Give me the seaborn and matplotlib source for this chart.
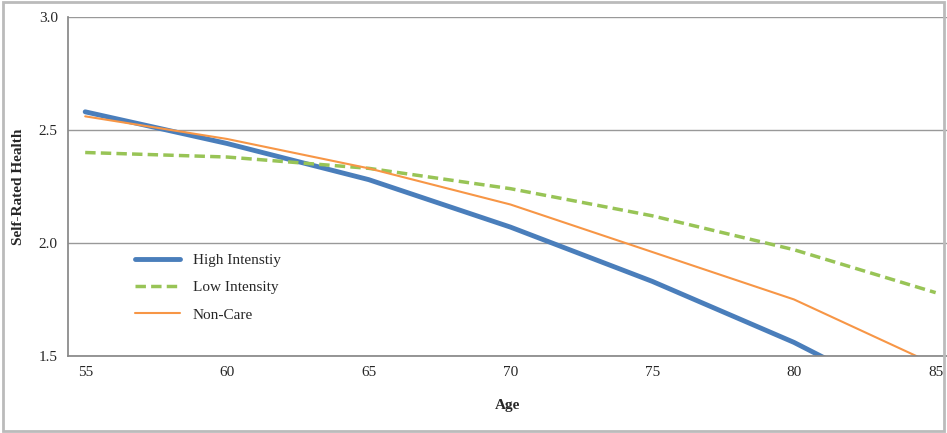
import matplotlib.pyplot as plt
import seaborn as sns
import pandas as pd

sns.set_theme(style="white")
plt.rcParams['font.family'] = ['Liberation Serif', 'DejaVu Serif']

ages = [55, 60, 65, 70, 75, 80, 85]
high = [2.58, 2.44, 2.28, 2.07, 1.83, 1.56, 1.24]
low = [2.40, 2.38, 2.33, 2.24, 2.12, 1.97, 1.78]
noncare = [2.56, 2.46, 2.33, 2.17, 1.96, 1.75, 1.46]

df = pd.DataFrame({'Age': ages, 'High Intenstiy': high,
                   'Low Intensity': low, 'Non-Care': noncare})

fig = plt.figure(figsize=(9.47, 4.33), dpi=100)
fig.patches.append(plt.Rectangle((0.003, 0.005), 0.994, 0.99, transform=fig.transFigure,
                                 fill=False, edgecolor='#bbbbbb', linewidth=2))
ax = fig.add_axes([0.072, 0.178, 0.928, 0.783])

sns.lineplot(data=df, x='Age', y='High Intenstiy', ax=ax, color='#4a7ebb', linewidth=3.5,
             label='High Intenstiy')
sns.lineplot(data=df, x='Age', y='Low Intensity', ax=ax, color='#98c456', linewidth=2.5,
             linestyle=(0, (3, 1.5)), label='Low Intensity')
sns.lineplot(data=df, x='Age', y='Non-Care', ax=ax, color='#f79646', linewidth=1.5,
             label='Non-Care')

ax.set_xlim(54.4, 85.4)
ax.set_ylim(1.5, 3.0)
ax.set_xticks([55, 60, 65, 70, 75, 80, 85])
ax.set_yticks([1.5, 2.0, 2.5, 3.0])
ax.set_yticklabels(['1.5', '2.0', '2.5', '3.0'])
ax.yaxis.grid(True, color='#999999', linewidth=1)
for s in ['top', 'right']:
    ax.spines[s].set_visible(False)
ax.spines['left'].set_color('#888888')
ax.spines['bottom'].set_color('#888888')
ax.tick_params(axis='both', labelsize=11, length=4, direction='out', color='#888888')
ax.set_xlabel('Age', fontsize=11, fontweight='bold', labelpad=14)
ax.set_ylabel('Self-Rated Health', fontsize=11, fontweight='bold', labelpad=10)
ax.legend(loc='lower left', bbox_to_anchor=(0.06, 0.06), frameon=False, fontsize=11,
          handlelength=3, labelspacing=0.9)

fig.savefig('out.png', dpi=100)
